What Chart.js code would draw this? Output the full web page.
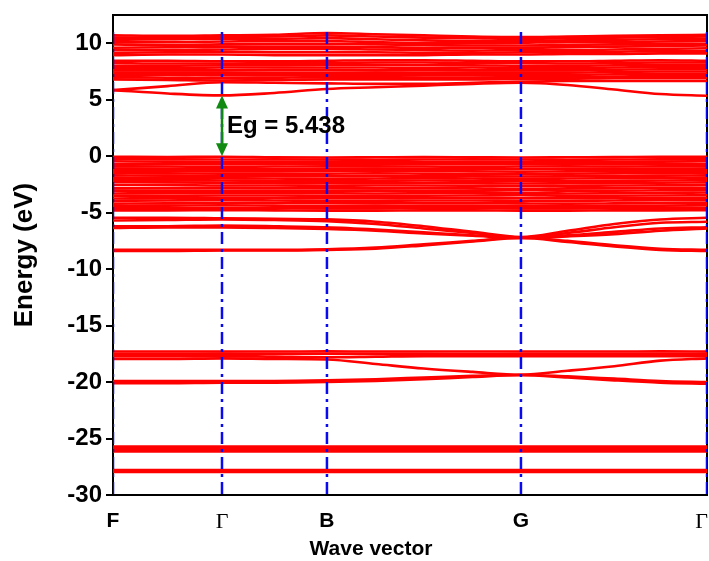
<!DOCTYPE html>
<html>
<head>
<meta charset="utf-8">
<script src="https://cdn.jsdelivr.net/npm/chart.js@4.4.1/dist/chart.umd.min.js"></script>
<style>
  html, body { margin: 0; padding: 0; background: #fff; }
  canvas { display: block; }
</style>
</head>
<body>
<canvas id="bandChart" width="709" height="561"></canvas>
<script>
// k-path sample positions (F .. Γ .. B .. G .. Γ)
const kPos = [0, 0.5, 1.0, 1.48, 1.963, 2.41, 2.85, 3.30, 3.743, 4.17, 4.60, 5.02, 5.45];
const kTicks = [0, 1.0, 1.963, 3.743, 5.45];
const kLabels = ['F', 'Γ', 'B', 'G', 'Γ'];

// conduction bands, upper group
const condUpper = [
  [10.7, 10.65, 10.7, 10.75, 10.9, 10.8, 10.7, 10.6, 10.55, 10.6, 10.65, 10.7, 10.75],
  [10.5, 10.5, 10.55, 10.6, 10.7, 10.6, 10.5, 10.45, 10.4, 10.45, 10.5, 10.55, 10.6],
  [10.3, 10.35, 10.4, 10.4, 10.45, 10.35, 10.25, 10.2, 10.2, 10.25, 10.3, 10.35, 10.4],
  [10.1, 10.1, 10.15, 10.2, 10.2, 10.1, 10.0, 10.0, 10.05, 10.1, 10.1, 10.15, 10.2],
  [9.9, 9.85, 9.9, 9.95, 9.95, 9.9, 9.85, 9.8, 9.8, 9.85, 9.9, 9.95, 9.95],
  [9.6, 9.65, 9.7, 9.7, 9.7, 9.65, 9.6, 9.6, 9.6, 9.65, 9.7, 9.75, 9.8],
  [9.4, 9.4, 9.45, 9.5, 9.5, 9.45, 9.4, 9.35, 9.4, 9.4, 9.45, 9.5, 9.55],
  [9.15, 9.2, 9.25, 9.2, 9.2, 9.2, 9.15, 9.15, 9.2, 9.2, 9.25, 9.3, 9.3],
  [8.95, 9.0, 9.0, 8.95, 8.95, 8.95, 8.95, 9.0, 9.0, 9.05, 9.05, 9.1, 9.1]
];
// conduction bands, lower group
const condLower = [
  [8.45, 8.45, 8.4, 8.4, 8.45, 8.5, 8.5, 8.45, 8.4, 8.4, 8.45, 8.5, 8.45],
  [8.25, 8.2, 8.2, 8.25, 8.25, 8.3, 8.3, 8.25, 8.25, 8.2, 8.25, 8.3, 8.3],
  [8.0, 8.0, 8.05, 8.05, 8.1, 8.1, 8.05, 8.05, 8.0, 8.0, 8.05, 8.1, 8.1],
  [7.8, 7.8, 7.85, 7.85, 7.85, 7.85, 7.8, 7.85, 7.8, 7.8, 7.85, 7.9, 7.9],
  [7.6, 7.6, 7.6, 7.65, 7.65, 7.6, 7.6, 7.6, 7.6, 7.6, 7.65, 7.7, 7.7],
  [7.4, 7.4, 7.4, 7.4, 7.4, 7.4, 7.35, 7.4, 7.4, 7.4, 7.45, 7.5, 7.5],
  [7.2, 7.2, 7.15, 7.15, 7.2, 7.2, 7.15, 7.15, 7.2, 7.2, 7.25, 7.3, 7.3],
  [7.0, 6.95, 6.9, 6.95, 7.0, 7.0, 6.95, 6.95, 7.0, 7.0, 7.05, 7.1, 7.1],
  [6.8, 6.75, 6.7, 6.75, 6.8, 6.8, 6.8, 6.8, 6.85, 6.85, 6.9, 6.9, 6.9],
  [5.85, 6.2, 6.55, 6.5, 6.45, 6.4, 6.4, 6.5, 6.6, 6.65, 6.65, 6.65, 6.65],
  [5.85, 5.55, 5.38, 5.6, 5.95, 6.1, 6.25, 6.4, 6.5, 6.3, 5.9, 5.5, 5.35]
];
// valence bands 0 .. -5 eV
const valTop = [
  [-0.05, -0.08, -0.05, -0.1, -0.12, -0.1, -0.08, -0.1, -0.12, -0.1, -0.08, -0.06, -0.05],
  [-0.25, -0.28, -0.3, -0.28, -0.3, -0.32, -0.3, -0.28, -0.3, -0.32, -0.3, -0.28, -0.25],
  [-0.45, -0.5, -0.52, -0.5, -0.48, -0.5, -0.52, -0.5, -0.5, -0.52, -0.5, -0.48, -0.45],
  [-0.7, -0.7, -0.72, -0.7, -0.68, -0.7, -0.72, -0.72, -0.7, -0.7, -0.72, -0.7, -0.7],
  [-0.9, -0.92, -0.95, -0.92, -0.9, -0.9, -0.92, -0.95, -0.92, -0.9, -0.92, -0.9, -0.9],
  [-1.1, -1.12, -1.15, -1.15, -1.12, -1.1, -1.12, -1.15, -1.15, -1.12, -1.1, -1.12, -1.1],
  [-1.3, -1.32, -1.35, -1.35, -1.32, -1.3, -1.32, -1.35, -1.38, -1.35, -1.32, -1.3, -1.3],
  [-1.5, -1.52, -1.55, -1.55, -1.55, -1.52, -1.55, -1.58, -1.6, -1.55, -1.52, -1.5, -1.5],
  [-1.7, -1.72, -1.75, -1.75, -1.78, -1.75, -1.75, -1.78, -1.8, -1.78, -1.75, -1.72, -1.7],
  [-1.9, -1.92, -1.95, -1.98, -2.0, -1.98, -1.95, -1.98, -2.0, -1.98, -1.95, -1.92, -1.9],
  [-2.1, -2.12, -2.15, -2.18, -2.2, -2.18, -2.15, -2.18, -2.2, -2.2, -2.18, -2.15, -2.12],
  [-2.3, -2.32, -2.35, -2.38, -2.4, -2.4, -2.38, -2.4, -2.42, -2.4, -2.38, -2.35, -2.32],
  [-2.55, -2.55, -2.6, -2.6, -2.62, -2.6, -2.6, -2.62, -2.65, -2.62, -2.6, -2.58, -2.55],
  [-2.85, -2.82, -2.8, -2.82, -2.85, -2.85, -2.82, -2.85, -2.9, -2.85, -2.82, -2.8, -2.8],
  [-3.05, -3.05, -3.05, -3.05, -3.08, -3.05, -3.05, -3.05, -3.0, -3.05, -3.05, -3.02, -3.0],
  [-3.3, -3.28, -3.25, -3.25, -3.28, -3.3, -3.28, -3.25, -3.25, -3.3, -3.28, -3.25, -3.22],
  [-3.5, -3.5, -3.48, -3.48, -3.5, -3.5, -3.5, -3.48, -3.45, -3.5, -3.5, -3.48, -3.45],
  [-3.75, -3.72, -3.7, -3.7, -3.72, -3.72, -3.7, -3.7, -3.72, -3.72, -3.7, -3.7, -3.68],
  [-3.95, -3.92, -3.9, -3.92, -3.95, -3.95, -3.92, -3.92, -3.95, -3.95, -3.92, -3.9, -3.9],
  [-4.2, -4.18, -4.15, -4.15, -4.15, -4.18, -4.15, -4.15, -4.18, -4.2, -4.18, -4.15, -4.12],
  [-4.4, -4.38, -4.35, -4.38, -4.4, -4.4, -4.38, -4.38, -4.4, -4.42, -4.4, -4.38, -4.35],
  [-4.6, -4.6, -4.58, -4.6, -4.62, -4.62, -4.6, -4.6, -4.62, -4.62, -4.6, -4.58, -4.58],
  [-4.8, -4.8, -4.78, -4.8, -4.82, -4.82, -4.8, -4.8, -4.82, -4.82, -4.8, -4.8, -4.78]
];
// valence bands -5 .. -9 eV (crossing at G)
const valMid = [
  [-5.45, -5.45, -5.5, -5.55, -5.6, -5.8, -6.2, -6.7, -7.15, -6.6, -6.0, -5.6, -5.45],
  [-5.7, -5.65, -5.6, -5.65, -5.75, -6.0, -6.4, -6.8, -7.2, -6.8, -6.3, -5.9, -5.8],
  [-6.2, -6.2, -6.15, -6.2, -6.3, -6.5, -6.75, -7.0, -7.2, -7.0, -6.7, -6.4, -6.3],
  [-6.35, -6.3, -6.3, -6.35, -6.45, -6.6, -6.85, -7.05, -7.25, -7.1, -6.9, -6.6, -6.4],
  [-8.3, -8.3, -8.3, -8.3, -8.25, -8.1, -7.8, -7.5, -7.2, -7.5, -7.9, -8.2, -8.3],
  [-8.4, -8.4, -8.35, -8.35, -8.3, -8.2, -7.9, -7.55, -7.25, -7.6, -8.0, -8.3, -8.4]
];
// semicore bands -17 .. -20 eV
const valDeep = [
  [-17.3, -17.3, -17.3, -17.3, -17.28, -17.3, -17.3, -17.3, -17.3, -17.3, -17.3, -17.28, -17.3],
  [-17.5, -17.5, -17.48, -17.5, -17.5, -17.5, -17.5, -17.52, -17.5, -17.5, -17.5, -17.5, -17.48],
  [-17.7, -17.7, -17.7, -17.75, -17.8, -17.75, -17.7, -17.7, -17.7, -17.7, -17.7, -17.7, -17.7],
  [-17.95, -17.95, -17.9, -17.95, -18.0, -18.4, -18.8, -19.1, -19.35, -19.0, -18.6, -18.1, -17.9],
  [-19.9, -19.9, -19.9, -19.9, -19.85, -19.75, -19.6, -19.45, -19.35, -19.5, -19.7, -19.9, -20.0],
  [-20.1, -20.1, -20.05, -20.05, -20.0, -19.9, -19.75, -19.55, -19.4, -19.6, -19.85, -20.05, -20.15]
];
// core bands around -26 and -28 eV
const valCore = [
  [-25.7, -25.7, -25.7, -25.7, -25.7, -25.7, -25.7, -25.7, -25.7, -25.7, -25.7, -25.7, -25.7],
  [-25.85, -25.85, -25.85, -25.85, -25.85, -25.85, -25.85, -25.85, -25.85, -25.85, -25.85, -25.85, -25.85],
  [-26.0, -26.0, -26.0, -26.0, -26.0, -26.0, -26.0, -26.0, -26.0, -26.0, -26.0, -26.0, -26.0],
  [-26.15, -26.15, -26.15, -26.15, -26.15, -26.15, -26.15, -26.15, -26.15, -26.15, -26.15, -26.15, -26.15],
  [-27.8, -27.8, -27.8, -27.8, -27.8, -27.8, -27.8, -27.8, -27.8, -27.8, -27.8, -27.8, -27.8],
  [-27.95, -27.95, -27.95, -27.95, -27.95, -27.95, -27.95, -27.95, -27.95, -27.95, -27.95, -27.95, -27.95]
];

// high-symmetry lines and band gap marker
const symLineTop = 11;
const symLineBottom = -30;
const gapCBM = 5.38;
const gapVBM = 0;
const gapK = 1.0;
const gapText = 'Eg = 5.438';
const xTitle = 'Wave vector';

const SANS = '"Liberation Sans", Arial, sans-serif';
const SERIF = '"Liberation Serif", "Times New Roman", serif';

function makeBand(vals) {
  return {
    data: vals.map((v, i) => ({ x: kPos[i], y: v })),
    borderColor: '#ff0000',
    borderWidth: 2.6,
    pointRadius: 0,
    cubicInterpolationMode: 'monotone',
    fill: false
  };
}

function makeSymLine(k) {
  return {
    data: [{ x: k, y: symLineTop }, { x: k, y: symLineBottom }],
    borderColor: '#0a0af0',
    borderWidth: 2.5,
    borderDash: [12, 5, 3, 5],
    pointRadius: 0,
    fill: false
  };
}

var datasets = [];
// blue lines first so they are drawn on top
kTicks.forEach(k => datasets.push(makeSymLine(k)));
[condUpper, condLower, valTop, valMid, valDeep, valCore].forEach(group => {
  group.forEach(b => datasets.push(makeBand(b)));
});

const framePlugin = {
  id: 'frame',
  beforeDatasetsDraw(chart) {
    const a = chart.chartArea;
    const ctx = chart.ctx;
    ctx.save();
    ctx.strokeStyle = '#000';
    ctx.lineWidth = 2;
    ctx.beginPath();
    ctx.moveTo(a.left, a.top);
    ctx.lineTo(a.right, a.top);
    ctx.lineTo(a.right, a.bottom);
    ctx.stroke();
    ctx.restore();
  },
  afterDraw(chart) {
    // x title sits left of the plot centre in the original
    const a = chart.chartArea;
    const ctx = chart.ctx;
    ctx.save();
    ctx.fillStyle = '#000';
    ctx.font = 'bold 21px ' + SANS;
    ctx.textAlign = 'center';
    ctx.textBaseline = 'middle';
    ctx.fillText(xTitle, a.left + 258, 549);
    ctx.restore();
  }
};

const gapPlugin = {
  id: 'gapArrow',
  afterDatasetsDraw(chart) {
    const xs = chart.scales.x, ys = chart.scales.y;
    const ctx = chart.ctx;
    const x = xs.getPixelForValue(gapK);
    const y1 = ys.getPixelForValue(gapCBM);
    const y2 = ys.getPixelForValue(gapVBM);
    const head = 12;
    ctx.save();
    ctx.strokeStyle = '#108a10';
    ctx.fillStyle = '#108a10';
    ctx.lineWidth = 2.5;
    ctx.beginPath();
    ctx.moveTo(x, y1 + head);
    ctx.lineTo(x, y2 - head);
    ctx.stroke();
    ctx.beginPath();
    ctx.moveTo(x, y1);
    ctx.lineTo(x - 6, y1 + head + 1);
    ctx.lineTo(x + 6, y1 + head + 1);
    ctx.closePath();
    ctx.fill();
    ctx.beginPath();
    ctx.moveTo(x, y2);
    ctx.lineTo(x - 6, y2 - head - 1);
    ctx.lineTo(x + 6, y2 - head - 1);
    ctx.closePath();
    ctx.fill();
    ctx.fillStyle = '#000';
    ctx.font = 'bold 24px ' + SANS;
    ctx.textBaseline = 'middle';
    ctx.textAlign = 'left';
    ctx.fillText(gapText, x + 5, (y1 + y2) / 2 + 1);
    ctx.restore();
  }
};

const ctx = document.getElementById('bandChart').getContext('2d');
const bandChart = new Chart(ctx, {
  type: 'line',
  data: { datasets: datasets },
  options: {
    responsive: false,
    animation: false,
    events: [],
    layout: { autoPadding: false, padding: { top: 15, right: 2, left: 0, bottom: 0 } },
    plugins: { legend: { display: false }, tooltip: { enabled: false } },
    scales: {
      x: {
        type: 'linear',
        min: 0,
        max: 5.45,
        afterFit: s => { s.height = 66; s.paddingLeft = 0; s.paddingRight = 0; },
        afterBuildTicks: s => { s.ticks = kTicks.map(v => ({ value: v })); },
        border: { display: true, color: '#000', width: 2 },
        grid: { display: true, drawOnChartArea: false, drawTicks: false },
        ticks: {
          autoSkip: false,
          maxRotation: 0,
          padding: 14,
          color: '#000',
          // trailing space keeps the last label inside the canvas
          callback: (v, i) => (i === kLabels.length - 1 ? kLabels[i] + '\u2002' : kLabels[i]),
          font: c => kLabels[c.index] === 'Γ'
            ? { family: SERIF, size: 22, weight: 'normal' }
            : { family: SANS, size: 21, weight: 'bold' }
        }
      },
      y: {
        min: -30,
        max: 12.5,
        afterFit: s => { s.width = 113; s.paddingTop = 0; s.paddingBottom = 0; },
        border: { display: true, color: '#000', width: 2 },
        grid: { display: true, drawOnChartArea: false, drawTicks: true, tickLength: 7, color: '#000', lineWidth: 2 },
        ticks: {
          stepSize: 2.5,
          padding: 4,
          color: '#000',
          font: { family: SANS, size: 24, weight: 'bold' },
          callback: v => (v % 5 === 0 ? v : '')
        },
        title: {
          display: true,
          text: 'Energy (eV)',
          color: '#000',
          font: { family: SANS, size: 26, weight: 'bold', lineHeight: 1.2 },
          padding: { top: 9, bottom: 0 }
        }
      }
    }
  },
  plugins: [framePlugin, gapPlugin]
});
</script>
</body>
</html>
